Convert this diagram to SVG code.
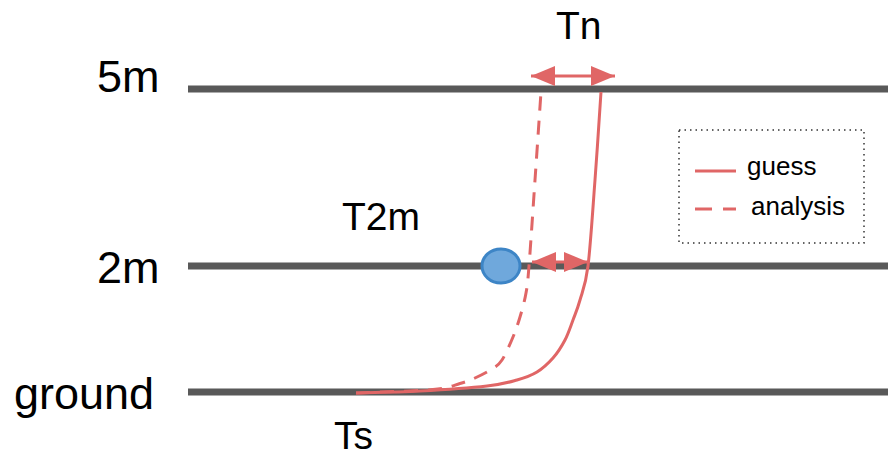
<svg xmlns="http://www.w3.org/2000/svg" width="888" height="455" viewBox="0 0 888 455">
<style>
.lvl{stroke:#595959;stroke-width:7;fill:none}
.t{font-family:"Liberation Sans",Arial,sans-serif;fill:#000}
.big{font-size:45px}
.mid{font-size:39px}
.lg{font-size:26px}
.red{stroke:#e06666;stroke-width:3;fill:none}
.dash{stroke-dasharray:14,10}
</style>
<defs>
<marker id="ah" viewBox="0 0 12 10" refX="12" refY="5" markerWidth="8" markerHeight="6.67" orient="auto-start-reverse" markerUnits="strokeWidth">
<path d="M0,0 L12,5 L0,10 z" fill="#e06666"/>
</marker>
</defs>
<g id="levels">
<line class="lvl" x1="188" y1="89" x2="888" y2="89"/>
<line class="lvl" x1="188" y1="266" x2="888" y2="266"/>
<line class="lvl" x1="188" y1="392" x2="888" y2="392"/>
</g>
<g id="labels">
<text class="t big" x="97" y="92">5m</text>
<text class="t big" x="97" y="283">2m</text>
<text class="t big" x="14" y="409">ground</text>
<text class="t mid" x="556" y="39">Tn</text>
<text class="t mid" x="342" y="230">T2m</text>
<text class="t mid" x="334" y="449">Ts</text>
</g>
<g id="connectors">
<path id="guess" class="red" d="M356,393 C366.7,392.7 398.2,392.2 420,391 C441.8,389.8 470.8,387.8 487,386 C503.2,384.2 508.7,382.3 517,380 C525.3,377.7 531,375.7 537,372 C543,368.3 548.3,363.3 553,358 C557.7,352.7 561.7,346.3 565,340 C568.3,333.7 570.5,326.7 573,320 C575.5,313.3 577.5,309 580,300 C582.5,291 585.5,286 588,266 C590.5,246 592.8,209 595,180 C597.2,151 600,106.7 601,92"/>
<path id="analysis" class="red dash" d="M356,393 C368.8,392.4 415.7,391.1 433,389.5 C450.3,387.9 453,385.4 460,383.5 C467,381.6 469.7,380.4 475,378 C480.3,375.6 487.5,372 492,369 C496.5,366 498.5,365.3 502,360 C505.5,354.7 510,344.2 513,337 C516,329.8 517.8,324.3 520,317 C522.2,309.7 524.5,301.5 526,293 C527.5,284.5 527.5,284.8 529,266 C530.5,247.2 533,209 535,180 C537,151 540,106.7 541,92"/>
<line class="red" x1="531" y1="76" x2="615" y2="76" marker-start="url(#ah)" marker-end="url(#ah)"/>
<line class="red" x1="532" y1="262" x2="588" y2="262" marker-start="url(#ah)" marker-end="url(#ah)"/>
</g>
<g id="point">
<ellipse cx="501" cy="266" rx="19" ry="17" fill="#6fa8dc" stroke="#3d85c6" stroke-width="3"/>
</g>
<g id="legend">
<rect x="679" y="130" width="185" height="113" fill="none" stroke="#333" stroke-width="1.5" stroke-dasharray="1.5,4"/>
<line class="red" x1="695" y1="171" x2="736" y2="171"/>
<line class="red" x1="695" y1="209" x2="736" y2="209" style="stroke-dasharray:17,11"/>
<text class="t lg" x="747" y="175">guess</text>
<text class="t lg" x="751" y="215">analysis</text>
</g>
</svg>
